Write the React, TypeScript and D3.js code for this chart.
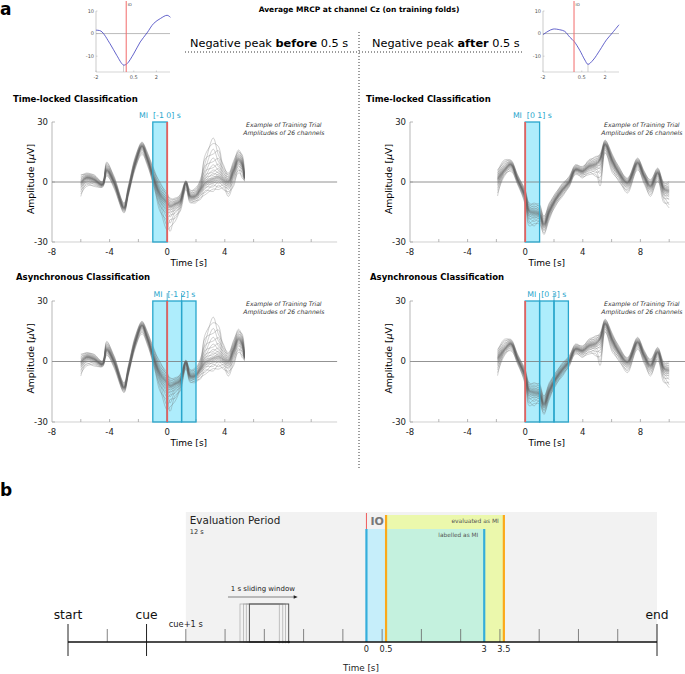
import * as d3 from "d3";

const FONT = "DejaVu Sans";
const CYAN = "#29a6cc";
const CYAN_FILL = "#aeedfc";
const RED = "#e8615d";

// ---- a: average MRCP at Cz, the two small plots on top
const mrcpBeforeTime = [-2, -1.67, -1.07, -0.62, -0.18, 0.04, 0.49, 0.93, 1.38, 1.82, 2.27, 2.71, 2.93];
const mrcpBeforeValue = [1.5, 1.1, -4.5, -9.7, -13.9, -13.4, -9, -3.7, 0.3, 4.5, 6.7, 8.1, 7.2];
const mrcpBeforePeak = -0.18;

const mrcpAfterTime = [-2, -1.68, -1.35, -0.92, -0.6, -0.27, 0.01, 0.37, 0.7, 0.9, 1.23, 1.66, 2.09, 2.41, 2.9];
const mrcpAfterValue = [-0.5, 1.0, 2.0, 1.7, 1.0, -1.6, -3.5, -7.4, -11.7, -13.6, -11.7, -7.4, -2.8, -0.2, 3.9];
const mrcpAfterPeak = 0.9;

const miniXTicks = [-2, 0.5, 2];
const miniYTicks = [10, 0, -10];

// ---- a: example training trial, 26 channels (bundle core + envelopes)
const beforeTime = [-6.0, -5.6, -5.1, -4.5, -4.2, -3.7, -3.0, -2.7, -2.2, -1.75, -1.4, -0.95, -0.5, 0.0, 0.2, 0.55, 0.9, 1.3, 1.6, 1.95, 2.3, 2.65, 3.2, 3.55, 3.9, 4.25, 4.6, 4.95, 5.2, 5.37];
const beforeCore = [-0.5, 2, 1.2, -1.3, 6, 0, -13, -4.7, 10, 17.8, 12, 2, -6.3, -11, -12.5, -11.3, -9.7, -0.5, -7.2, -7, -3.8, 0, 2, 2.8, 1.2, 0, 5.3, 11, 8.7, 2];
const beforeUpper = [3.7, 4.5, 3.7, 0.3, 10, 3, -10.5, -2, 13, 20, 15.3, 7, 0, -5.5, -8, -8, -6.3, 0.7, -4, -3, 1.2, 13.7, 22, 17.8, 8.7, 4.5, 10.3, 16, 13.7, 3.7];
const beforeLower = [-7.2, -2.2, -2.2, -2.7, 3, -3, -15.5, -7, 7, 13.7, 8.7, -2, -14.7, -24, -24.7, -19.7, -14.7, -3.8, -10.5, -10.5, -8.8, -6.3, -4.7, -3.8, -3.8, -7.2, -2.2, 4.5, 2, 0.3];

const afterTime = [-1.92, -1.45, -1.0, -0.53, 0, 0.28, 0.62, 0.97, 1.3, 1.67, 2.1, 2.6, 3.05, 3.5, 3.98, 4.44, 4.9, 5.2, 5.55, 6.06, 6.5, 7.1, 7.8, 8.26, 8.7, 9.2, 9.65, 10.0];
const afterCore = [1.2, 6, 8.7, 1.2, -7.2, -14.7, -15.5, -16, -21.3, -14.7, -8.8, -3.8, 0, 6.2, 5.3, 7.8, 8.7, 11, 18.7, 10.3, 4.5, -0.5, 9.5, 2.8, -2.2, 4.5, -3.8, -4.7];
const afterUpper = [6, 11, 11, 3.7, -3.8, -10.5, -10.5, -11, -17, -10.5, -5.5, -0.5, 2.8, 8.7, 7.8, 11.2, 12.8, 14, 21, 13.7, 7.8, 2, 12, 5.5, 1.2, 7, -0.5, 0.3];
const afterLower = [-7, 2.8, 5.3, -1.3, -11.3, -22, -22, -21, -26.3, -19, -12.2, -7.2, -2.5, 3.7, 2, 3.7, 2.8, -2, 14.5, 4.5, 0.3, -5.5, 6, -1, -7.2, 0.3, -10.5, -13];

// where each of the 26 channels sits inside the bundle (-1 lower edge, 1 upper edge),
// on even and on odd samples (channels swap places, so the lines cross)
const channelWeightsEven = [-1, -0.82, -0.66, -0.52, -0.41, -0.33, -0.26, -0.2, -0.15, -0.1, -0.06, -0.03, 0, 0.03, 0.07, 0.11, 0.15, 0.2, 0.26, 0.33, 0.41, 0.5, 0.6, 0.72, 0.86, 1];
const channelWeightsOdd = [-0.66, -1, -0.41, -0.82, -0.26, -0.52, -0.15, -0.33, -0.06, -0.2, 0, -0.1, 0.07, -0.03, 0.15, 0.03, 0.26, 0.11, 0.41, 0.2, 0.6, 0.33, 0.86, 0.5, 1, 0.72];

const trialXTicks = [-6, -4, -2, 0, 2, 4, 6, 8, 10];
const trialXLabels = [-8, -4, 0, 4, 8];
const trialYTicks = [-30, 0, 30];

type Win = [number, number];
const beforeLockedWins: Win[] = [[-1, 0]];
const beforeAsyncWins: Win[] = [[-1, 0], [0, 1], [1, 2]];
const afterLockedWins: Win[] = [[0, 1]];
const afterAsyncWins: Win[] = [[0, 1], [1, 2], [2, 3]];

// ---- b: trial timeline (seconds from trial start)
const trialTickTimes = [0, 1, 2, 3, 4, 5, 6, 7, 8, 9, 10, 11, 12, 13, 14, 15];
const trialEvents = [
  { label: "start", t: 0 },
  { label: "cue", t: 2 },
  { label: "end", t: 15 },
];
const cuePlusOne = 3;
const ioTime = 7.6;
const relLabels = [0, 0.5, 3, 3.5];
const windowStarts = [4.38, 4.47, 4.54, 4.62];

function MiniMrcp({ x0, x1, times, values, peak }: { x0: number; x1: number; times: number[]; values: number[]; peak: number }) {
  const x = d3.scaleLinear().domain([-2, 2.9]).range([x0, x1]);
  const y = d3.scaleLinear().domain([-17, 10]).range([72, 11]);
  const line = d3
    .line<number>()
    .x((_, i) => x(times[i]))
    .y((d) => y(d))
    .curve(d3.curveCatmullRom);
  const peakVal = d3.min(values) as number;
  return (
    <g>
      <line x1={x0} x2={x0} y1={y(10)} y2={y(-17)} stroke="#aaa" strokeWidth={0.6} />
      <line x1={x0} x2={x1} y1={y(-17)} y2={y(-17)} stroke="#bbb" strokeWidth={0.6} />
      <line x1={x0} x2={x1} y1={y(0)} y2={y(0)} stroke="#aaa" strokeWidth={0.8} />
      {miniYTicks.map((v) => (
        <g key={v}>
          <line x1={x0} x2={x0 + 1.5} y1={y(v)} y2={y(v)} stroke="#aaa" strokeWidth={0.5} />
          <text x={x0 - 2} y={y(v)} dy="0.35em" fontSize={5} fill="#555" textAnchor="end">
            {v}
          </text>
        </g>
      ))}
      {miniXTicks.map((t) => (
        <g key={t}>
          <line x1={x(t)} x2={x(t)} y1={y(-17)} y2={y(-17) - 1.5} stroke="#aaa" strokeWidth={0.5} />
          <text x={x(t)} y={78.5} fontSize={5} fill="#555" textAnchor="middle">
            {t}
          </text>
        </g>
      ))}
      <line x1={x(peak)} x2={x(peak)} y1={y(peakVal)} y2={y(-17)} stroke="#bbb" strokeWidth={0.7} />
      <path d={line(values) ?? ""} fill="none" stroke="#3c3cbe" strokeWidth={0.8} />
      <line x1={x(0)} x2={x(0)} y1={1} y2={y(-17)} stroke="#f26b6b" strokeWidth={1} />
      <text x={x(0) + 1.5} y={5.5} fontSize={3.8} fill="#333">
        IO
      </text>
    </g>
  );
}

function TrialPanel(props: {
  x0: number;
  y30: number;
  yM30: number;
  title: string;
  titleX: number;
  titleY: number;
  times: number[];
  core: number[];
  upper: number[];
  lower: number[];
  wins: Win[];
  winText: string;
}) {
  const { x0, y30, yM30, title, titleX, titleY, times, core, upper, lower, wins, winText } = props;
  const x = d3.scaleLinear().domain([-8, 11.8]).range([x0, x0 + 19.8 * 14.4]);
  const y = d3.scaleLinear().domain([-30, 30]).range([yM30, y30]);
  const line = d3
    .line<number>()
    .x((_, i) => x(times[i]))
    .y((d) => y(d))
    .curve(d3.curveCatmullRom);

  const channels = channelWeightsEven.map((_, ch) =>
    core.map((c, i) => {
      const w = i % 2 === 0 ? channelWeightsEven[ch] : channelWeightsOdd[ch];
      return w >= 0 ? c + w * (upper[i] - c) : c - w * (lower[i] - c);
    })
  );

  const winStart = wins[0][0];
  const winEnd = wins[wins.length - 1][1];

  return (
    <g>
      <text x={titleX} y={titleY} fontSize={8.5} fontWeight="bold">
        {title}
      </text>

      {/* MI windows, fill */}
      {wins.map(([a, b], i) => (
        <rect key={i} x={x(a)} y={y30} width={x(b) - x(a)} height={yM30 - y30} fill={CYAN_FILL} />
      ))}

      {/* axes */}
      <line x1={x0} x2={x0} y1={y30} y2={yM30} stroke="#999" strokeWidth={0.7} />
      <line x1={x0} x2={x.range()[1]} y1={yM30} y2={yM30} stroke="#bbb" strokeWidth={0.7} />
      <line x1={x0} x2={x.range()[1]} y1={y(0)} y2={y(0)} stroke="#777" strokeWidth={0.8} />
      {trialYTicks.map((v) => (
        <g key={v}>
          <line x1={x0} x2={x0 + 3} y1={y(v)} y2={y(v)} stroke="#999" strokeWidth={0.7} />
          <text x={x0 - 4} y={y(v)} dy="0.35em" fontSize={8.5} textAnchor="end" fill="#222">
            {v}
          </text>
        </g>
      ))}
      {trialXTicks.map((t) => (
        <line key={t} x1={x(t)} x2={x(t)} y1={yM30} y2={yM30 - 3} stroke="#999" strokeWidth={0.7} />
      ))}
      {trialXLabels.map((t) => (
        <text key={t} x={x(t)} y={yM30 + 13} fontSize={8.5} textAnchor="middle" fill="#222">
          {t}
        </text>
      ))}
      <text x={x(1.5)} y={yM30 + 24} fontSize={9} textAnchor="middle">
        Time [s]
      </text>
      <text
        transform={`translate(${x0 - 18},${y(0) - 3}) rotate(-90)`}
        fontSize={9.3}
        textAnchor="middle"
      >
        Amplitude [<tspan fontStyle="italic">μ</tspan>V]
      </text>

      {/* channels */}
      {channels.map((vals, i) => (
        <path key={i} d={line(vals) ?? ""} fill="none" stroke="#666" strokeWidth={0.55} strokeOpacity={0.55} />
      ))}

      {/* MI window outlines */}
      {wins.map(([a, b], i) => (
        <rect
          key={i}
          x={x(a)}
          y={y30}
          width={x(b) - x(a)}
          height={yM30 - y30}
          fill="none"
          stroke={CYAN}
          strokeWidth={1.3}
        />
      ))}
      {wins.slice(1).map(([a], i) => (
        <line key={i} x1={x(a)} x2={x(a)} y1={y30} y2={y30 - 8} stroke={CYAN} strokeWidth={0.8} />
      ))}
      <text x={(x(winStart) + x(winEnd)) / 2} y={y30 - 4.5} fontSize={7.8} fill={CYAN} textAnchor="middle">
        {"MI\u00a0\u00a0" + winText + " s"}
      </text>

      <line x1={x(0)} x2={x(0)} y1={y30} y2={yM30} stroke={RED} strokeWidth={1.8} />

      <text x={x(8.1)} y={y30 + 4.5} fontSize={6.1} fontStyle="italic" textAnchor="middle" fill="#333">
        Example of Training Trial
      </text>
      <text x={x(8.1)} y={y30 + 12.8} fontSize={6.1} fontStyle="italic" textAnchor="middle" fill="#333">
        Amplitudes of 26 channels
      </text>
    </g>
  );
}

function PanelB() {
  const t = d3.scaleLinear().domain([0, 15]).range([68, 657]);
  const axisY = 642;
  const top = 512;
  const evalTop = 515;
  const labTop = 529;
  const arrowX1 = t(windowStarts[0]) - 12;
  const arrowX2 = t(windowStarts[windowStarts.length - 1] + 1) + 9;

  return (
    <g>
      <text x={0} y={496} fontSize={17} fontWeight="bold">
        b
      </text>

      <rect x={t(cuePlusOne)} y={top} width={t(15) - t(cuePlusOne)} height={axisY - top} fill="#f2f2f2" />
      <rect x={t(ioTime + 0.5)} y={evalTop} width={t(ioTime + 3.5) - t(ioTime + 0.5)} height={axisY - evalTop} fill="#ebf8ac" />
      <rect x={t(ioTime)} y={labTop} width={t(ioTime + 0.5) - t(ioTime)} height={axisY - labTop} fill="#c6eefa" />
      <rect x={t(ioTime + 0.5)} y={labTop} width={t(ioTime + 3) - t(ioTime + 0.5)} height={axisY - labTop} fill="#c4f1de" />

      <text x={t(cuePlusOne) + 4} y={524} fontSize={10.4} fill="#222">
        Evaluation Period
      </text>
      <text x={t(cuePlusOne) + 4} y={534} fontSize={6.6} fill="#333">
        12 s
      </text>

      {/* ticks */}
      {trialTickTimes
        .filter((s) => !trialEvents.some((e) => e.t === s))
        .map((s) => (
          <line key={s} x1={t(s)} x2={t(s)} y1={629} y2={axisY} stroke="#666" strokeWidth={0.8} />
        ))}
      {trialEvents.map((e) => (
        <g key={e.label}>
          <line x1={t(e.t)} x2={t(e.t)} y1={624} y2={656} stroke="#222" strokeWidth={1} />
          <text x={t(e.t)} y={619} fontSize={12.3} textAnchor="middle" fill="#111">
            {e.label}
          </text>
        </g>
      ))}
      <text x={t(cuePlusOne)} y={627} fontSize={8.3} textAnchor="middle" fill="#222">
        cue+1 s
      </text>

      {/* sliding windows */}
      {windowStarts.map((s, i) => {
        const last = i === windowStarts.length - 1;
        return (
          <g key={i}>
            <rect
              x={t(s)}
              y={604}
              width={t(s + 1) - t(s)}
              height={axisY - 604}
              fill="none"
              stroke={last ? "#555" : "#aaa"}
              strokeWidth={last ? 1 : 0.7}
            />
            <circle cx={t(s + 1)} cy={axisY} r={1.3} fill={last ? "#444" : "#999"} />
          </g>
        );
      })}
      <line x1={arrowX1} x2={arrowX2 - 3} y1={597} y2={597} stroke="#333" strokeWidth={0.6} />
      <path d={`M${arrowX2},597 L${arrowX2 - 4},595.3 L${arrowX2 - 4},598.7 Z`} fill="#222" />
      <text x={(arrowX1 + arrowX2) / 2} y={591} fontSize={7} textAnchor="middle" fill="#222">
        1 s sliding window
      </text>

      {/* IO / labelled / evaluated markers */}
      <line x1={t(ioTime)} x2={t(ioTime)} y1={top + 1} y2={labTop} stroke="#ee5a5a" strokeWidth={1} />
      {[0, 3].map((r) => (
        <line key={r} x1={t(ioTime + r)} x2={t(ioTime + r)} y1={labTop} y2={axisY} stroke="#35aedb" strokeWidth={2.2} />
      ))}
      {[0.5, 3.5].map((r) => (
        <line key={r} x1={t(ioTime + r)} x2={t(ioTime + r)} y1={evalTop} y2={axisY} stroke="#fba919" strokeWidth={2.2} />
      ))}
      <text x={t(ioTime) + 4} y={524.5} fontSize={11} fontWeight="bold" fill="#777">
        IO
      </text>
      <text x={t(ioTime + 3.5) - 5} y={523} fontSize={6} textAnchor="end" fill="#555">
        evaluated as MI
      </text>
      <text x={t(ioTime + 3) - 6} y={537} fontSize={5.8} textAnchor="end" fill="#555">
        labelled as MI
      </text>

      <line x1={t(0)} x2={t(15)} y1={axisY} y2={axisY} stroke="#111" strokeWidth={1.3} />

      {relLabels.map((r) => (
        <text key={r} x={t(ioTime + r)} y={652} fontSize={8.2} textAnchor="middle" fill="#222">
          {r}
        </text>
      ))}
      <text x={361} y={671} fontSize={8.8} textAnchor="middle" fill="#222">
        Time [s]
      </text>
    </g>
  );
}

export default function App() {
  return (
    <>
      <style>{`body{margin:0}`}</style>
      <svg width={685} height={674} fontFamily={FONT} style={{ display: "block" }}>
        <rect width={685} height={674} fill="#fff" />

        <text x={0} y={15} fontSize={17} fontWeight="bold">
          a
        </text>
        <text x={359} y={12} fontSize={7.5} fontWeight="bold" textAnchor="middle">
          Average MRCP at channel Cz (on training folds)
        </text>

        <MiniMrcp x0={96} x1={170} times={mrcpBeforeTime} values={mrcpBeforeValue} peak={mrcpBeforePeak} />
        <MiniMrcp x0={543} x1={619} times={mrcpAfterTime} values={mrcpAfterValue} peak={mrcpAfterPeak} />

        <text x={190} y={46.5} fontSize={11.3}>
          Negative peak <tspan fontWeight="bold">before</tspan> 0.5 s
        </text>
        <text x={372} y={46.5} fontSize={11.3}>
          Negative peak <tspan fontWeight="bold">after</tspan> 0.5 s
        </text>
        <line x1={185} x2={522} y1={52} y2={52} stroke="#222" strokeWidth={0.9} strokeDasharray="1 2" />
        <line x1={359} x2={359} y1={32} y2={470} stroke="#222" strokeWidth={0.9} strokeDasharray="1 2" />

        <TrialPanel
          x0={52}
          y30={122}
          yM30={242}
          title="Time-locked Classification"
          titleX={13}
          titleY={102}
          times={beforeTime}
          core={beforeCore}
          upper={beforeUpper}
          lower={beforeLower}
          wins={beforeLockedWins}
          winText="[-1 0]"
        />
        <TrialPanel
          x0={52}
          y30={301}
          yM30={422}
          title="Asynchronous Classification"
          titleX={16}
          titleY={280}
          times={beforeTime}
          core={beforeCore}
          upper={beforeUpper}
          lower={beforeLower}
          wins={beforeAsyncWins}
          winText="[-1 2]"
        />
        <TrialPanel
          x0={410}
          y30={122}
          yM30={242}
          title="Time-locked Classification"
          titleX={366}
          titleY={102}
          times={afterTime}
          core={afterCore}
          upper={afterUpper}
          lower={afterLower}
          wins={afterLockedWins}
          winText="[0 1]"
        />
        <TrialPanel
          x0={410}
          y30={301}
          yM30={422}
          title="Asynchronous Classification"
          titleX={370}
          titleY={280}
          times={afterTime}
          core={afterCore}
          upper={afterUpper}
          lower={afterLower}
          wins={afterAsyncWins}
          winText="[0 3]"
        />

        <PanelB />
      </svg>
    </>
  );
}
